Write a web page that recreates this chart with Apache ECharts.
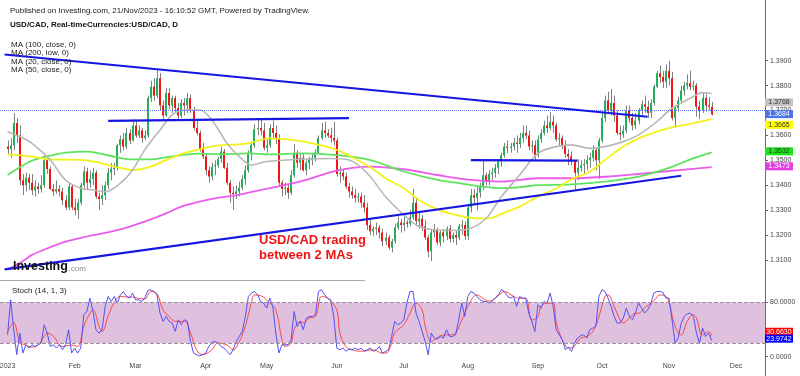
<!DOCTYPE html>
<html><head><meta charset="utf-8">
<script src="https://cdn.jsdelivr.net/npm/echarts@6/dist/echarts.min.js"></script>
<style>html,body{margin:0;padding:0;background:#fff}#c{width:800px;height:376px}</style>
</head><body><div id="c"></div>
<script>
// ---------- data ----------
const monthLabels = ['2023','Feb','Mar','Apr','May','Jun','Jul','Aug','Sep','Oct','Nov','Dec'];
const monthStartBars = [0,22,42,65,85,108,130,151,174,195,217,239];
const priceTickValues = [1.31,1.32,1.33,1.34,1.35,1.36,1.37,1.38,1.39];
const stochTickValues = [0,80];
// daily candles [open, high, low, close]
const candles = [
[1.3555,1.3580,1.3520,1.3545],[1.3545,1.3590,1.3510,1.3560],[1.3560,1.3689,1.3540,1.3650],[1.3650,1.3670,1.3570,1.3600],[1.3600,1.3640,1.3400,1.3420],
[1.3420,1.3445,1.3360,1.3400],[1.3400,1.3450,1.3375,1.3430],[1.3430,1.3445,1.3380,1.3410],[1.3410,1.3445,1.3360,1.3380],[1.3380,1.3420,1.3355,1.3395],
[1.3395,1.3410,1.3365,1.3385],[1.3385,1.3440,1.3370,1.3400],[1.3400,1.3520,1.3390,1.3500],[1.3500,1.3505,1.3445,1.3465],[1.3465,1.3475,1.3380,1.3385],
[1.3385,1.3405,1.3355,1.3375],[1.3375,1.3420,1.3365,1.3385],[1.3385,1.3400,1.3355,1.3375],[1.3375,1.3390,1.3320,1.3340],[1.3340,1.3360,1.3300,1.3310],
[1.3310,1.3410,1.3300,1.3395],[1.3395,1.3405,1.3300,1.3310],[1.3310,1.3345,1.3280,1.3300],[1.3300,1.3345,1.3265,1.3330],[1.3330,1.3410,1.3320,1.3400],
[1.3400,1.3475,1.3390,1.3455],[1.3455,1.3470,1.3380,1.3410],[1.3410,1.3460,1.3390,1.3425],[1.3425,1.3470,1.3400,1.3450],[1.3450,1.3460,1.3345,1.3355],
[1.3355,1.3370,1.3300,1.3345],[1.3345,1.3400,1.3320,1.3360],[1.3360,1.3415,1.3340,1.3400],[1.3400,1.3470,1.3385,1.3450],[1.3450,1.3490,1.3420,1.3465],
[1.3465,1.3490,1.3440,1.3470],[1.3470,1.3565,1.3460,1.3560],[1.3560,1.3600,1.3530,1.3585],[1.3585,1.3610,1.3540,1.3555],[1.3555,1.3630,1.3545,1.3610],
[1.3610,1.3625,1.3565,1.3580],[1.3580,1.3665,1.3575,1.3640],[1.3640,1.3660,1.3590,1.3600],[1.3600,1.3640,1.3590,1.3620],[1.3620,1.3630,1.3570,1.3590],
[1.3590,1.3620,1.3580,1.3600],[1.3600,1.3760,1.3590,1.3750],[1.3750,1.3820,1.3735,1.3795],[1.3795,1.3830,1.3740,1.3760],[1.3760,1.3862,1.3750,1.3830],
[1.3830,1.3850,1.3700,1.3720],[1.3720,1.3740,1.3660,1.3680],[1.3680,1.3790,1.3675,1.3770],[1.3770,1.3790,1.3705,1.3720],[1.3720,1.3760,1.3690,1.3750],
[1.3750,1.3760,1.3690,1.3710],[1.3710,1.3730,1.3665,1.3680],[1.3680,1.3745,1.3670,1.3730],[1.3730,1.3750,1.3680,1.3720],[1.3720,1.3770,1.3690,1.3750],
[1.3750,1.3765,1.3690,1.3700],[1.3700,1.3715,1.3620,1.3630],[1.3630,1.3660,1.3600,1.3610],[1.3610,1.3620,1.3535,1.3545],[1.3545,1.3570,1.3505,1.3515],
[1.3515,1.3530,1.3440,1.3460],[1.3460,1.3475,1.3410,1.3435],[1.3435,1.3490,1.3420,1.3475],[1.3475,1.3500,1.3440,1.3480],[1.3480,1.3515,1.3470,1.3505],
[1.3505,1.3555,1.3490,1.3535],[1.3535,1.3545,1.3465,1.3470],[1.3470,1.3490,1.3400,1.3410],[1.3410,1.3420,1.3330,1.3370],[1.3370,1.3395,1.3300,1.3365],
[1.3365,1.3400,1.3345,1.3375],[1.3375,1.3415,1.3355,1.3390],[1.3390,1.3440,1.3380,1.3425],[1.3425,1.3480,1.3400,1.3460],[1.3460,1.3540,1.3450,1.3530],
[1.3530,1.3570,1.3500,1.3560],[1.3560,1.3645,1.3550,1.3625],[1.3625,1.3665,1.3600,1.3630],[1.3630,1.3668,1.3600,1.3620],[1.3620,1.3650,1.3540,1.3550],
[1.3550,1.3590,1.3530,1.3560],[1.3560,1.3645,1.3550,1.3630],[1.3630,1.3660,1.3590,1.3610],[1.3610,1.3640,1.3565,1.3590],[1.3590,1.3605,1.3395,1.3410],
[1.3410,1.3420,1.3355,1.3385],[1.3385,1.3410,1.3360,1.3390],[1.3390,1.3405,1.3345,1.3370],[1.3370,1.3460,1.3360,1.3440],[1.3440,1.3565,1.3430,1.3530],
[1.3530,1.3540,1.3470,1.3490],[1.3490,1.3530,1.3460,1.3510],[1.3510,1.3525,1.3455,1.3460],[1.3460,1.3500,1.3440,1.3490],[1.3490,1.3515,1.3465,1.3505],
[1.3500,1.3525,1.3480,1.3510],[1.3510,1.3545,1.3495,1.3530],[1.3530,1.3600,1.3525,1.3590],[1.3590,1.3650,1.3580,1.3620],[1.3620,1.3655,1.3590,1.3610],
[1.3610,1.3625,1.3590,1.3600],[1.3600,1.3630,1.3570,1.3590],[1.3590,1.3655,1.3560,1.3580],[1.3580,1.3590,1.3435,1.3445],[1.3445,1.3475,1.3410,1.3450],
[1.3450,1.3465,1.3420,1.3435],[1.3435,1.3450,1.3385,1.3395],[1.3395,1.3410,1.3350,1.3375],[1.3375,1.3395,1.3345,1.3360],[1.3360,1.3385,1.3330,1.3350],
[1.3350,1.3370,1.3330,1.3355],[1.3355,1.3370,1.3310,1.3330],[1.3330,1.3360,1.3290,1.3310],[1.3310,1.3330,1.3220,1.3240],[1.3240,1.3260,1.3200,1.3215],
[1.3215,1.3235,1.3195,1.3225],[1.3225,1.3250,1.3200,1.3230],[1.3230,1.3240,1.3185,1.3210],[1.3210,1.3225,1.3155,1.3175],[1.3175,1.3210,1.3160,1.3190],
[1.3190,1.3200,1.3140,1.3150],[1.3150,1.3185,1.3130,1.3175],[1.3175,1.3245,1.3165,1.3230],[1.3230,1.3275,1.3220,1.3250],[1.3250,1.3265,1.3210,1.3240],
[1.3240,1.3275,1.3215,1.3250],[1.3250,1.3260,1.3230,1.3245],[1.3245,1.3300,1.3235,1.3270],[1.3270,1.3385,1.3260,1.3330],[1.3330,1.3345,1.3235,1.3255],
[1.3255,1.3290,1.3225,1.3265],[1.3265,1.3280,1.3215,1.3235],[1.3235,1.3260,1.3180,1.3190],[1.3190,1.3200,1.3110,1.3135],[1.3135,1.3220,1.3095,1.3210],
[1.3210,1.3245,1.3190,1.3220],[1.3220,1.3230,1.3160,1.3170],[1.3170,1.3220,1.3155,1.3210],[1.3210,1.3225,1.3170,1.3195],[1.3195,1.3235,1.3180,1.3225],
[1.3225,1.3240,1.3170,1.3185],[1.3185,1.3210,1.3170,1.3200],[1.3200,1.3215,1.3160,1.3190],[1.3190,1.3245,1.3180,1.3235],[1.3235,1.3260,1.3200,1.3240],
[1.3240,1.3255,1.3180,1.3195],[1.3195,1.3320,1.3180,1.3310],[1.3310,1.3385,1.3290,1.3360],[1.3360,1.3385,1.3320,1.3350],[1.3350,1.3395,1.3300,1.3370],
[1.3370,1.3410,1.3350,1.3395],[1.3395,1.3500,1.3380,1.3440],[1.3440,1.3450,1.3400,1.3415],[1.3415,1.3460,1.3400,1.3445],[1.3445,1.3470,1.3420,1.3450],
[1.3450,1.3485,1.3430,1.3470],[1.3470,1.3505,1.3445,1.3495],[1.3495,1.3530,1.3475,1.3520],[1.3520,1.3570,1.3510,1.3555],[1.3555,1.3580,1.3530,1.3550],
[1.3550,1.3570,1.3530,1.3555],[1.3555,1.3590,1.3540,1.3570],[1.3570,1.3600,1.3530,1.3565],[1.3565,1.3610,1.3550,1.3590],[1.3590,1.3640,1.3570,1.3610],
[1.3610,1.3640,1.3585,1.3600],[1.3600,1.3620,1.3540,1.3555],[1.3555,1.3580,1.3530,1.3560],[1.3560,1.3580,1.3500,1.3520],[1.3520,1.3600,1.3510,1.3585],
[1.3585,1.3625,1.3570,1.3610],[1.3610,1.3660,1.3600,1.3640],[1.3640,1.3680,1.3610,1.3630],[1.3630,1.3694,1.3620,1.3655],[1.3655,1.3680,1.3610,1.3640],
[1.3640,1.3650,1.3575,1.3585],[1.3585,1.3610,1.3560,1.3590],[1.3590,1.3600,1.3545,1.3560],[1.3560,1.3580,1.3510,1.3525],[1.3525,1.3545,1.3480,1.3515],
[1.3515,1.3535,1.3480,1.3495],[1.3495,1.3500,1.3380,1.3450],[1.3450,1.3505,1.3420,1.3470],[1.3470,1.3500,1.3455,1.3480],[1.3480,1.3505,1.3445,1.3485],
[1.3485,1.3520,1.3460,1.3500],[1.3500,1.3530,1.3470,1.3510],[1.3510,1.3560,1.3495,1.3540],[1.3540,1.3550,1.3460,1.3500],[1.3500,1.3590,1.3425,1.3580],
[1.3580,1.3690,1.3570,1.3670],[1.3670,1.3760,1.3655,1.3740],[1.3740,1.3775,1.3690,1.3700],[1.3700,1.3786,1.3680,1.3730],[1.3730,1.3760,1.3655,1.3680],
[1.3680,1.3700,1.3600,1.3610],[1.3610,1.3640,1.3580,1.3605],[1.3605,1.3640,1.3590,1.3620],[1.3620,1.3720,1.3610,1.3700],[1.3700,1.3720,1.3650,1.3670],
[1.3670,1.3690,1.3620,1.3640],[1.3640,1.3690,1.3625,1.3660],[1.3660,1.3710,1.3645,1.3700],[1.3700,1.3740,1.3680,1.3725],[1.3725,1.3760,1.3690,1.3715],
[1.3715,1.3740,1.3670,1.3690],[1.3690,1.3745,1.3670,1.3730],[1.3730,1.3805,1.3720,1.3795],[1.3795,1.3860,1.3790,1.3850],[1.3850,1.3880,1.3810,1.3835],
[1.3835,1.3860,1.3790,1.3815],[1.3815,1.3885,1.3790,1.3860],[1.3860,1.3899,1.3800,1.3830],[1.3830,1.3855,1.3660,1.3670],[1.3670,1.3720,1.3630,1.3710],
[1.3710,1.3755,1.3695,1.3740],[1.3740,1.3800,1.3730,1.3780],[1.3780,1.3815,1.3760,1.3800],[1.3800,1.3845,1.3785,1.3810],[1.3810,1.3860,1.3780,1.3795],
[1.3795,1.3820,1.3780,1.3800],[1.3800,1.3810,1.3675,1.3715],[1.3715,1.3740,1.3665,1.3700],[1.3700,1.3770,1.3690,1.3750],[1.3750,1.3765,1.3695,1.3720],
[1.3720,1.3755,1.3700,1.3715],[1.3715,1.3735,1.3680,1.3684]
];
// moving averages: [bar, value]
const ma20 = [[0,1.3615],[4,1.3595],[8,1.3568],[14,1.3501],[19,1.3421],[24,1.3388],[28,1.3381],[32,1.3374],[37,1.3408],[41,1.3461],[45,1.3542],[50,1.3622],[54,1.3682],[58,1.3702],[63,1.3702],[67,1.3662],[72,1.3568],[76,1.3515],[80,1.3481],[85,1.3495],[96,1.3504],[106,1.3507],[112,1.3501],[118,1.3448],[124,1.3354],[130,1.3281],[135,1.3234],[141,1.3220],[146,1.3218],[152,1.3227],[157,1.3267],[162,1.3354],[168,1.3441],[174,1.3528],[180,1.3555],[185,1.3562],[191,1.3548],[196,1.3555],[202,1.3575],[207,1.3602],[213,1.3655],[218,1.3709],[224,1.3749],[228,1.3772],[231,1.3768]];
const ma50 = [[0,1.3525],[8,1.3515],[14,1.3504],[25,1.3501],[30,1.3491],[36,1.3472],[41,1.3461],[47,1.3475],[52,1.3501],[57,1.3525],[63,1.3544],[68,1.3558],[74,1.3563],[79,1.3568],[86,1.3588],[97,1.3575],[108,1.3542],[119,1.3472],[124,1.3428],[130,1.3388],[135,1.3341],[141,1.3303],[147,1.3281],[154,1.3267],[158,1.3267],[162,1.3285],[168,1.3314],[174,1.3354],[180,1.3387],[185,1.3424],[191,1.3454],[196,1.3501],[202,1.3555],[207,1.3588],[213,1.3615],[218,1.3632],[224,1.3646],[231,1.3665]];
const ma100 = [[0,1.3441],[4,1.3472],[8,1.3499],[14,1.3519],[19,1.3531],[26,1.3535],[30,1.3528],[36,1.3512],[41,1.3504],[47,1.3504],[52,1.3512],[57,1.3521],[63,1.3527],[68,1.3525],[74,1.3525],[79,1.3528],[86,1.3524],[97,1.3528],[108,1.3521],[119,1.3501],[130,1.3455],[141,1.3421],[147,1.3410],[156,1.3394],[162,1.3388],[168,1.3392],[174,1.3400],[185,1.3403],[196,1.3414],[207,1.3434],[218,1.3474],[224,1.3504],[231,1.3532]];
const ma200 = [[0,1.3062],[4,1.3087],[8,1.3120],[14,1.3151],[19,1.3173],[25,1.3191],[30,1.3204],[36,1.3220],[41,1.3238],[47,1.3263],[52,1.3287],[57,1.3314],[63,1.3334],[68,1.3347],[74,1.3358],[79,1.3370],[86,1.3388],[97,1.3418],[108,1.3459],[119,1.3475],[130,1.3464],[141,1.3441],[152,1.3421],[162,1.3414],[174,1.3428],[185,1.3428],[196,1.3434],[207,1.3445],[218,1.3458],[231,1.3473]];
// drawn trend lines [bar, price]
const trendTop = [[-1,1.3925],[210,1.3675]];
const trendBottom = [[-1,1.3062],[221,1.3438]];
const levelFebMay = [[33,1.3658],[112,1.3669]];
const levelAugSep = [[152,1.3501],[187,1.3499]];
const lastPrice = 1.3684;
// stochastic %K per bar, %D [bar, value]
const stochK = [32.3,84,39.7,2.8,34.7,5.2,17.5,12.6,17.5,15,17.5,20,47,34.7,15,17.5,12.6,17.5,10.1,17.5,
39.7,5.2,12.6,5.2,12.6,61.8,66.7,86.4,66.7,39.7,34.7,39.7,74.1,88.9,81.5,88.9,79,91.3,96.2,88.9,
86.4,93.8,83.9,83.9,81.5,86.4,97.7,98.7,96.2,91.3,64.3,52,59.3,52,49.5,37.2,54.4,47,54.4,52,
22.4,5.2,2.8,1.3,2.8,5.2,15,21,22.4,20,15,12.6,7.7,2.8,10.1,22.4,29.8,37.2,59.3,88.9,
93.8,96.2,91.3,81.5,79,71.6,86.4,74.1,34.7,5.2,17.5,17.5,17.5,24.9,66.7,44.6,52,39.7,56.9,59.3,
59.3,61.8,96.2,98.7,91.3,86.4,83.9,59.3,12.6,10.1,12.6,7.7,11.1,10.1,12.6,10.1,12.6,7.7,10.1,12.6,
7.7,10.1,15,5.2,7.7,10.1,29.8,52,47,49.5,54.4,79,96.2,96.2,64.3,52,37.2,22.4,2.8,34.7,
27.4,25.9,29.8,27.4,39.7,29.8,29.8,32.3,54.4,79,59.3,88.9,96.2,93.8,88.9,83.9,81.5,81.5,79,81.5,
86.4,91.3,98.7,96.2,88.9,86.4,88.9,74.1,88.9,86.4,86.4,64.3,52,37.2,76.6,71.6,81.5,79,93.8,74.1,
39.7,32.3,24.9,10.1,14,7.7,20,27.4,30.8,32.3,27.4,39.7,42.1,44.6,88.9,98.7,96.2,86.4,74.1,59.3,
49.5,49.5,56.9,71.6,59.3,54.4,64.3,79,71.6,64.3,69.2,76.6,93.8,96.2,96.2,94.8,86.4,86.4,54.4,20,
27.4,49.5,59.3,63.3,64.3,59.3,34.7,20,42.1,29.8,34.7,23.9742];
const stochD = [[0,37],[2,50],[4,22],[6,17],[8,14],[10,17],[12,30],[13,35],[15,30],[18,15],[21,17],[23,15],[25,45],[27,64],[28,69],[30,45],[31,37],[33,60],[35,80],[37,89],[39,88],[41,88],[43,86],[45,85],[47,96],[49,93],[51,69],[53,59],[55,52],[58,52],[60,35],[62,10],[64,3],[67,10],[69,20],[72,17],[74,10],[76,22],[78,45],[79,62],[80,80],[81,91],[83,90],[86,79],[88,69],[90,25],[91,15],[93,20],[94,40],[96,52],[97,50],[99,57],[101,59],[103,89],[105,86],[108,69],[109,35],[111,15],[113,10],[116,8],[120,10],[123,5],[125,8],[127,35],[130,47],[132,64],[134,79],[136,69],[137,45],[139,22],[140,25],[143,32],[145,32],[147,35],[149,54],[151,74],[154,91],[156,86],[158,82],[161,90],[163,96],[166,89],[168,86],[170,86],[172,54],[174,59],[175,74],[177,79],[179,79],[180,50],[182,25],[184,13],[185,13],[188,27],[190,30],[192,37],[194,59],[196,89],[197,91],[199,74],[201,54],[202,50],[204,57],[206,64],[207,64],[209,72],[212,82],[214,91],[216,89],[217,80],[219,45],[221,32],[223,52],[225,62],[226,57],[228,32],[230,37],[231,30.663]];
const priceTags = [1.3768, 1.3684, 1.3665, 1.3532, 1.3473];
const stochTags = [30.6630, 23.9742];

// ---------- chart ----------
const OFF = 2, SLOTS = 251;
const slots = Array.from({length: SLOTS}, (_, i) => i);
const labelAt = {};
monthStartBars.forEach((b, k) => { labelAt[b + OFF] = monthLabels[k]; });
const sh = arr => arr.map(p => [p[0] + OFF, p[1]]);
const FONT = '"Liberation Sans", Arial, sans-serif';

const chart = echarts.init(document.getElementById('c'), null, {renderer: 'canvas'});

function renderCandle(params, api) {
  const x = api.value(0), o = api.value(1), c = api.value(2), l = api.value(3), h = api.value(4);
  const po = api.coord([x, o]), pc = api.coord([x, c]), pl = api.coord([x, l]), ph = api.coord([x, h]);
  const cx = Math.round(po[0]) - 1;
  const y1 = Math.min(po[1], pc[1]), y2 = Math.max(po[1], pc[1]);
  return {type: 'group', children: [
    {type: 'line', shape: {x1: cx + 1.5, y1: ph[1], x2: cx + 1.5, y2: pl[1]}, style: {stroke: '#808080', lineWidth: 1}},
    {type: 'rect', shape: {x: cx, y: y1, width: 2, height: Math.max(1, y2 - y1)}, style: {fill: c >= o ? '#1fb158' : '#f51414'}}
  ]};
}

function maSeries(data, color, width) {
  return {type: 'line', xAxisIndex: 0, yAxisIndex: 0, data: sh(data), smooth: 0.35, showSymbol: false,
    silent: true, z: 3, lineStyle: {color: color, width: width}};
}
function trendSeries(data, width) {
  return {type: 'line', xAxisIndex: 0, yAxisIndex: 0, data: sh(data), showSymbol: false, silent: true, z: 5,
    lineStyle: {color: '#1616e2', width: width}};
}

chart.setOption({
  animation: false,
  backgroundColor: '#ffffff',
  grid: [
    {left: 0, right: 35, top: 0, height: 284.8, outerBoundsMode: 'none'},
    {left: 0, right: 35, top: 288.9, height: 67.7, outerBoundsMode: 'none'}
  ],
  xAxis: [
    {type: 'category', gridIndex: 0, data: slots, show: false, boundaryGap: true},
    {type: 'category', gridIndex: 1, data: slots, boundaryGap: true,
      axisLine: {show: false}, axisTick: {show: false},
      axisLabel: {interval: (idx) => labelAt[idx] !== undefined, formatter: (v, idx) => labelAt[idx] || '',
        fontSize: 7, color: '#444', margin: 6, fontFamily: FONT}}
  ],
  yAxis: [
    {type: 'value', gridIndex: 0, position: 'right', min: 1.30, max: 1.41438,
      axisLine: {show: false}, splitLine: {show: false},
      axisTick: {show: true, length: 3, lineStyle: {color: '#666'}, customValues: priceTickValues},
      axisLabel: {customValues: priceTickValues, formatter: v => v.toFixed(4), fontSize: 7, color: '#444', margin: 5, fontFamily: FONT}},
    {type: 'value', gridIndex: 1, position: 'right', min: 0, max: 100,
      axisLine: {show: false}, splitLine: {show: false},
      axisTick: {show: true, length: 3, lineStyle: {color: '#666'}, customValues: stochTickValues},
      axisLabel: {customValues: stochTickValues, formatter: v => v.toFixed(4), fontSize: 7, color: '#444', margin: 5, fontFamily: FONT}}
  ],
  series: [
    {type: 'custom', xAxisIndex: 0, yAxisIndex: 0, renderItem: renderCandle, z: 2, silent: true,
      encode: {x: 0, y: [1, 2, 3, 4]},
      data: candles.map((r, i) => [i + OFF, r[0], r[3], r[2], r[1]])},
    maSeries(ma200, '#ea5cea', 1.8),
    maSeries(ma100, '#5ee35e', 1.8),
    maSeries(ma50, '#f2f21a', 1.8),
    maSeries(ma20, '#b8b8b8', 1.6),
    Object.assign(trendSeries(trendTop, 2.2), {
      markLine: {silent: true, symbol: 'none', label: {show: false},
        lineStyle: {color: '#5a78ee', type: 'dotted', width: 1}, data: [{yAxis: lastPrice}]}}),
    trendSeries(trendBottom, 2.2),
    trendSeries(levelFebMay, 2.2),
    trendSeries(levelAugSep, 2.2),
    {type: 'line', xAxisIndex: 1, yAxisIndex: 1, data: stochK.map((v, i) => [i + OFF, v]), showSymbol: false,
      silent: true, z: 4, lineStyle: {color: '#5050f5', width: 1},
      markArea: {silent: true, itemStyle: {color: '#dfc0df'}, data: [[{yAxis: 20}, {yAxis: 80}]]},
      markLine: {silent: true, symbol: 'none', label: {show: false},
        lineStyle: {color: '#9a8f9a', type: 'dashed', width: 1}, data: [{yAxis: 20}, {yAxis: 80}]}},
    {type: 'line', xAxisIndex: 1, yAxisIndex: 1, data: sh(stochD), smooth: 0.4, showSymbol: false,
      silent: true, z: 3, lineStyle: {color: '#ff4646', width: 1}}
  ]
});

// ---------- overlay texts and value tags ----------
function txt(x, y, s, font, fill, align) {
  return {type: 'text', silent: true, z: 20, style: {x: x, y: y, text: s, font: font, fill: fill,
    textAlign: align || 'left', textVerticalAlign: 'middle', verticalAlign: 'middle'}};
}
function tag(y, s, bg, fg) {
  return {type: 'group', silent: true, z: 30, children: [
    {type: 'rect', shape: {x: 765, y: y - 4, width: 28, height: 8}, style: {fill: bg}, z: 30},
    {type: 'text', z: 31, style: {x: 779, y: y, text: s, font: '7px ' + FONT, fill: fg,
      textAlign: 'center', textVerticalAlign: 'middle', verticalAlign: 'middle'}}
  ]};
}
const py = v => chart.convertToPixel({yAxisIndex: 0}, v);
const sy = v => chart.convertToPixel({yAxisIndex: 1}, v);
// tag colours and the small vertical shifts the original uses to keep the boxes apart
const tagStyles = [['#c4c4c4', '#333'], ['#4a74e8', '#fff'], ['#ffff00', '#333'], ['#19e619', '#333'], ['#e23ee2', '#fff']];
const tagShift = [8.8, -0.4, 5.6, -1, -0.7];
const stochShift = [-4.1, -1.7];
const g = [
  {type: 'line', silent: true, z: 10, shape: {x1: 765.5, y1: 0, x2: 765.5, y2: 376}, style: {stroke: '#6e6e6e', lineWidth: 1}},
  {type: 'line', silent: true, z: 10, shape: {x1: 0, y1: 280.5, x2: 365, y2: 280.5}, style: {stroke: '#a8a8a8', lineWidth: 1}},
  txt(10, 11, 'Published on Investing.com, 21/Nov/2023 - 16:10:52 GMT, Powered by TradingView.', '8px ' + FONT, '#222'),
  txt(10, 25, 'USD/CAD, Real-timeCurrencies:USD/CAD, D', 'bold 8px ' + FONT, '#111'),
  txt(11, 44.5, 'MA (100, close, 0)', '8px ' + FONT, '#222'),
  txt(11, 53, 'MA (200, low, 0)', '8px ' + FONT, '#222'),
  txt(11, 61.5, 'MA (20, close, 0)', '8px ' + FONT, '#222'),
  txt(11, 70, 'MA (50, close, 0)', '8px ' + FONT, '#222'),
  txt(12, 290.5, 'Stoch (14, 1, 3)', '8px ' + FONT, '#222'),
  txt(13, 266.5, 'Investing', 'bold 12.5px ' + FONT, '#111'),
  txt(68.5, 268.5, '.com', '8px ' + FONT, '#8a8a8a'),
  txt(259, 240.5, 'USD/CAD trading', 'bold 13px ' + FONT, '#ec1414'),
  txt(259, 255, 'between 2 MAs', 'bold 13px ' + FONT, '#ec1414')
];
priceTags.forEach((v, k) => g.push(tag(py(v) + tagShift[k], v.toFixed(4), tagStyles[k][0], tagStyles[k][1])));
g.push(tag(sy(stochTags[0]) + stochShift[0], stochTags[0].toFixed(4), '#ff0000', '#fff'));
g.push(tag(sy(stochTags[1]) + stochShift[1], stochTags[1].toFixed(4), '#0000ff', '#fff'));
chart.setOption({graphic: g});
</script>
</body></html>
